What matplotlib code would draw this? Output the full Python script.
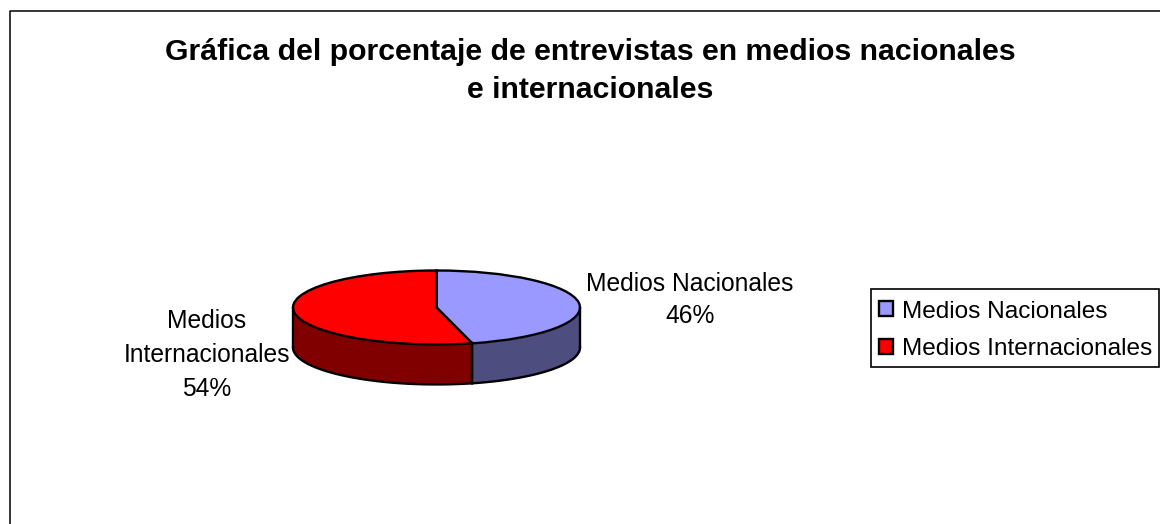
import numpy as np
import matplotlib
matplotlib.use('Agg')
import matplotlib.pyplot as plt
from matplotlib.patches import Rectangle

plt.rcParams['font.family'] = ['Liberation Sans', 'DejaVu Sans']

categories = ['Medios Nacionales', 'Medios Internacionales']
values = [46, 54]
top_colors = ['#9999FF', '#FF0000']
side_colors = ['#4D4D80', '#800000']
title = 'Gráfica del porcentaje de entrevistas en medios nacionales\ne internacionales'

W, H = 1160, 524
fig = plt.figure(figsize=(W / 100, H / 100), dpi=100)

# page frame, bottom is cut off in the original
bg = fig.add_axes([0, 0, 1, 1])
bg.set_xlim(0, W)
bg.set_ylim(H, 0)
bg.axis('off')
bg.plot([9.5, 9.5, 1159.5], [H, 10.5, 10.5], color='black', lw=1.1)

# pie axes, 1 unit = rx / ry in pixels
cx, cy, rx, ry, depth = 436.5, 307.5, 143.5, 37, 1.08
pad = 1.1
ax = fig.add_axes([(cx - pad * rx) / W,
                   1 - (cy + (pad + depth) * ry) / H,
                   2 * pad * rx / W,
                   (2 * pad + depth) * ry / H])

# side wall first, only the front half of the rim shows
fracs = np.cumsum([0] + values) / sum(values)
for i in range(len(values)):
    a0 = max(fracs[i] * 2 * np.pi, np.pi / 2)
    a1 = min(fracs[i + 1] * 2 * np.pi, 3 * np.pi / 2)
    t = np.linspace(a0, a1, 80)
    x = np.sin(t)
    y = np.cos(t)
    ax.fill_between(x, y - depth, y, color=side_colors[i], lw=0)
    ax.plot(x, y - depth, color='black', lw=1.7)
    ax.plot([x[0], x[0]], [y[0], y[0] - depth], color='black', lw=1.7)
    ax.plot([x[-1], x[-1]], [y[-1], y[-1] - depth], color='black', lw=1.7)

wedges, _ = ax.pie(values, colors=top_colors, startangle=90, counterclock=False,
                   radius=1, wedgeprops={'edgecolor': 'black', 'linewidth': 1.7})
ax.set_aspect('auto')
ax.set_xlim(-pad, pad)
ax.set_ylim(-pad - depth, pad)
ax.axis('off')

bg.text(590, 71, title, ha='center', va='center', fontsize=21.8, fontweight='bold',
        linespacing=1.43, color='black')

bg.text(690, 300, 'Medios Nacionales\n46%', ha='center', va='center', fontsize=17.7,
        linespacing=1.38, color='black')
bg.text(207, 355, 'Medios\nInternacionales\n54%', ha='center', va='center', fontsize=17.7,
        linespacing=1.5, color='black')

# legend box drawn apart, the default padding cannot give this box shape
bg.add_patch(Rectangle((870.5, 288.5), 288.5, 78.5, facecolor='white', edgecolor='black', lw=1.2))
bg.legend(wedges, categories, loc='upper left',
          bbox_to_anchor=(872 / W, 1 - 294 / H), bbox_transform=fig.transFigure,
          fontsize=17.6, frameon=False,
          handlelength=0.57, handleheight=0.57, handletextpad=0.38,
          labelspacing=0.65, borderpad=0.27, borderaxespad=0)

fig.savefig('out.png', dpi=100)
